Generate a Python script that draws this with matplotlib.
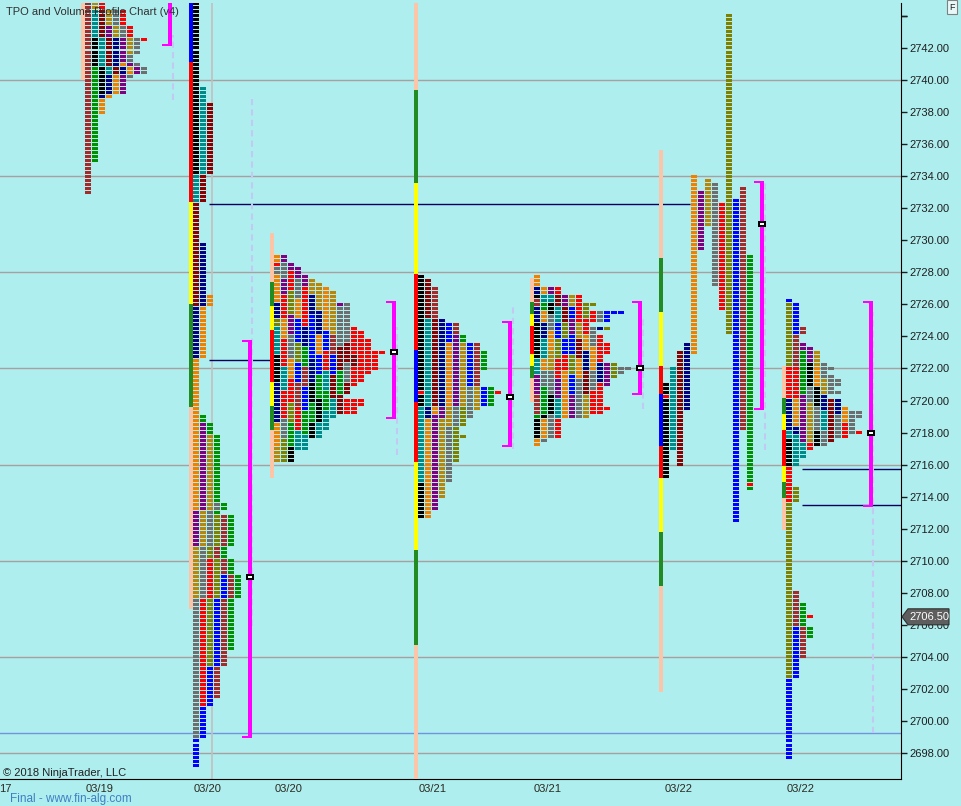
import matplotlib
matplotlib.use('Agg')
import matplotlib.pyplot as plt
from matplotlib.collections import PatchCollection
from matplotlib.patches import Rectangle, Polygon

plt.rcParams['font.family'] = ['Liberation Sans', 'DejaVu Sans']

# ---------------- data ----------------
COLORS = {'k': '#000000', 't': '#008B8B', 'r': '#8B0000', 'n': '#000080', 'o': '#F08000',
          'p': '#800080', 'g': '#B8860B', 's': '#6E6E6E', 'R': '#FF0000', 'v': '#808000',
          'b': '#0000FF', 'w': '#A52A2A', 'G': '#009000',
          'pe': '#FCC5A8', 'fg': '#228B22', 'y': '#FFFF00'}

# Profile A (03/19) - TPO periods (low, high, colour), time order
A_PERIODS = [(2733.0, 2744.75, 'w'), (2735.0, 2740.75, 'G'), (2739.25, 2742.5, 'k'),
             (2740.5, 2744.25, 't'), (2740.5, 2744.25, 'r'), (2739.0, 2742.5, 'n'),
             (2738.0, 2741.0, 'o'), (2739.25, 2743.25, 'p'), (2741.75, 2744.75, 'g'),
             (2740.25, 2744.25, 's'), (2742.5, 2744.75, 'R')]

# Profile B (03/20 overnight) - TPO periods
B_PERIODS = [(2734.25, 2744.75, 'k'), (2732.5, 2739.5, 't'), (2726.0, 2738.5, 'r'),
             (2722.75, 2729.75, 'n'), (2713.25, 2726.5, 'o'), (2711.0, 2718.5, 'p'),
             (2707.75, 2717.75, 'g'), (2699.0, 2713.5, 's'), (2701.0, 2710.0, 'R'),
             (2703.5, 2712.75, 'v'), (2697.25, 2709.0, 'b'), (2701.5, 2712.75, 'w'),
             (2704.5, 2719.0, 'G')]

# Profile C (03/20 day) - column runs (low, high, colour)
C_COLS = [
    [(2716.25, 2717.0, 'g'), (2717.25, 2718.5, 'o'), (2718.75, 2721.0, 'n'), (2721.25, 2722.75, 'k'),
     (2723.0, 2724.5, 't'), (2724.75, 2725.0, 'v'), (2725.25, 2726.0, 'n'), (2726.25, 2727.75, 'o'),
     (2728.0, 2728.25, 's'), (2728.5, 2728.5, 'R'), (2728.75, 2729.0, 'o')],
    [(2716.25, 2717.5, 'v'), (2717.75, 2718.75, 's'), (2719.0, 2720.5, 'R'), (2720.75, 2722.0, 't'),
     (2722.25, 2723.75, 'R'), (2724.0, 2725.0, 'o'), (2725.25, 2726.5, 'R'), (2726.75, 2727.5, 'p'),
     (2727.75, 2728.5, 's'), (2728.75, 2729.0, 'p')],
    [(2716.25, 2717.0, 'k'), (2717.25, 2718.5, 'G'), (2718.75, 2719.75, 'v'), (2720.0, 2721.25, 'R'),
     (2721.5, 2722.5, 'o'), (2722.75, 2724.0, 's'), (2724.25, 2725.25, 'p'), (2725.5, 2726.75, 'v'),
     (2727.0, 2728.0, 'R'), (2728.25, 2728.5, 'p')],
    [(2717.0, 2718.0, 't'), (2718.25, 2719.5, 'R'), (2719.75, 2721.0, 'w'), (2721.25, 2722.25, 'b'),
     (2722.5, 2723.5, 'v'), (2723.75, 2725.0, 'b'), (2725.25, 2726.25, 'o'), (2726.5, 2727.5, 's'),
     (2727.75, 2728.25, 'p')],
    [(2717.0, 2717.75, 't'), (2718.0, 2719.25, 'G'), (2719.5, 2720.75, 'b'), (2721.0, 2722.0, 'w'),
     (2722.25, 2723.25, 'G'), (2723.5, 2724.5, 'n'), (2724.75, 2725.75, 'R'), (2726.0, 2727.0, 'R'),
     (2727.25, 2727.75, 'p')],
    [(2717.75, 2718.5, 'k'), (2718.75, 2719.75, 'G'), (2720.0, 2721.0, 'k'), (2721.25, 2722.5, 'n'),
     (2722.75, 2723.75, 'b'), (2724.0, 2725.25, 'b'), (2725.5, 2726.5, 'n'), (2726.75, 2727.5, 'g')],
    [(2717.75, 2718.5, 't'), (2718.75, 2720.0, 'k'), (2720.25, 2721.5, 'G'), (2721.75, 2722.75, 'b'),
     (2723.0, 2724.0, 'o'), (2724.25, 2725.5, 'n'), (2725.75, 2726.5, 'g'), (2726.75, 2727.25, 'g')],
    [(2718.25, 2719.25, 't'), (2719.5, 2720.5, 'G'), (2720.75, 2721.75, 't'), (2722.0, 2723.0, 'R'),
     (2723.25, 2724.25, 'b'), (2724.5, 2725.5, 'o'), (2725.75, 2727.0, 'o')],
    [(2719.0, 2720.0, 't'), (2720.25, 2721.5, 'r'), (2721.75, 2722.75, 'b'), (2723.0, 2724.0, 'w'),
     (2724.25, 2725.25, 'g'), (2725.5, 2726.75, 'g')],
    [(2719.25, 2720.25, 'r'), (2720.5, 2721.75, 'G'), (2722.0, 2723.25, 'r'), (2723.5, 2724.5, 's'),
     (2724.75, 2725.75, 's'), (2726.0, 2726.0, 'p')],
    [(2719.25, 2720.0, 'R'), (2720.5, 2721.0, 'r'), (2721.25, 2722.25, 's'), (2722.5, 2723.5, 'r'),
     (2723.75, 2724.5, 's'), (2724.75, 2726.0, 's')],
    [(2719.25, 2720.0, 'R'), (2721.0, 2722.0, 'R'), (2722.25, 2722.75, 'r'), (2723.0, 2724.5, 'R')],
    [(2719.75, 2720.0, 'R'), (2721.25, 2722.25, 'R'), (2722.5, 2724.25, 'R')],
    [(2721.75, 2723.75, 'R')],
    [(2722.0, 2723.0, 'R')],
    [(2723.0, 2723.0, 'R')],
]

# Profile D (03/21 overnight)
D_COLS = [
    [(2712.75, 2714.75, 'k'), (2715.0, 2719.5, 't'), (2719.75, 2720.25, 'k'), (2720.5, 2720.5, 'R'),
     (2720.75, 2727.75, 'k')],
    [(2712.75, 2713.75, 'o'), (2714.0, 2718.75, 'o'), (2719.0, 2719.5, 'n'), (2719.75, 2725.0, 't'),
     (2725.25, 2727.5, 'r')],
    [(2713.25, 2719.0, 'p'), (2719.25, 2719.5, 'o'), (2719.75, 2725.0, 'r'), (2725.25, 2727.0, 'w')],
    [(2714.0, 2718.75, 'g'), (2719.0, 2719.5, 'p'), (2719.75, 2725.0, 'n')],
    [(2715.0, 2718.25, 's'), (2718.5, 2719.5, 'g'), (2719.75, 2723.5, 'o'), (2723.75, 2724.75, 'b')],
    [(2716.25, 2718.25, 'v'), (2718.5, 2719.5, 's'), (2719.75, 2724.0, 'p'), (2724.25, 2724.75, 'w')],
    [(2717.75, 2717.75, 'v'), (2718.5, 2719.5, 'v'), (2719.75, 2723.5, 'g'), (2723.75, 2724.0, 'G')],
    [(2719.0, 2720.75, 's'), (2721.0, 2723.5, 'b')],
    [(2719.5, 2720.75, 'g'), (2721.0, 2723.5, 'w')],
    [(2719.75, 2720.75, 'b'), (2722.0, 2723.0, 'G')],
    [(2719.75, 2720.75, 'G')],
    [(2720.5, 2720.5, 'R')],
]

# Profile E (03/21 day)
E_COLS = [
    [(2717.25, 2717.5, 'o'), (2717.75, 2718.75, 'k'), (2719.0, 2719.0, 'G'), (2719.25, 2720.25, 'w'),
     (2720.5, 2721.5, 'p'), (2721.75, 2722.5, 't'), (2722.75, 2724.75, 'k'), (2725.0, 2725.75, 'n'),
     (2726.0, 2726.25, 'w'), (2726.5, 2726.5, 'k'), (2726.75, 2727.0, 'n'), (2727.25, 2727.75, 'o')],
    [(2717.5, 2717.5, 's'), (2717.75, 2718.75, 'o'), (2719.0, 2719.0, 'k'), (2719.25, 2720.75, 'G'),
     (2721.0, 2721.75, 's'), (2722.0, 2722.5, 'o'), (2722.75, 2723.75, 't'), (2724.0, 2724.75, 'n'),
     (2725.0, 2725.5, 'o'), (2725.75, 2726.0, 'G'), (2726.25, 2726.5, 't'), (2726.75, 2727.0, 'o')],
    [(2717.75, 2719.0, 's'), (2719.25, 2720.25, 'k'), (2720.5, 2721.75, 's'), (2722.0, 2723.0, 'g'),
     (2723.25, 2724.25, 'o'), (2724.5, 2725.25, 's'), (2725.5, 2726.0, 'k'), (2726.25, 2726.5, 't'),
     (2726.75, 2727.0, 'p')],
    [(2717.75, 2718.75, 'R'), (2719.0, 2720.0, 't'), (2720.25, 2721.25, 'p'), (2721.5, 2722.5, 'R'),
     (2722.75, 2723.75, 'v'), (2724.0, 2724.75, 'b'), (2725.0, 2725.75, 't'), (2726.0, 2726.5, 'r'),
     (2726.75, 2727.0, 'R')],
    [(2719.0, 2720.5, 'o'), (2720.75, 2721.75, 'o'), (2722.0, 2722.75, 'R'), (2723.0, 2723.75, 'b'),
     (2724.0, 2724.75, 'v'), (2725.0, 2725.75, 'r'), (2726.0, 2726.5, 'p')],
    [(2719.0, 2720.25, 'p'), (2720.5, 2721.5, 'b'), (2721.75, 2722.75, 'v'), (2723.0, 2724.0, 'b'),
     (2724.25, 2725.0, 'p'), (2725.25, 2725.75, 'b'), (2726.0, 2726.5, 'g')],
    [(2719.0, 2720.0, 's'), (2720.25, 2721.25, 's'), (2721.5, 2722.5, 'o'), (2722.75, 2723.75, 'r'),
     (2724.0, 2724.75, 'g'), (2725.0, 2725.75, 'R'), (2726.0, 2726.5, 'R')],
    [(2719.0, 2720.25, 'g'), (2720.5, 2721.75, 'r'), (2722.0, 2723.0, 'n'), (2723.25, 2724.0, 'o'),
     (2724.25, 2725.0, 'R'), (2725.25, 2726.0, 'v')],
    [(2719.25, 2720.5, 'R'), (2720.75, 2721.75, 's'), (2722.0, 2723.25, 'o'), (2723.5, 2724.5, 's'),
     (2725.0, 2725.5, 'R'), (2726.0, 2726.0, 'v')],
    [(2719.25, 2721.0, 'R'), (2721.25, 2722.25, 'n'), (2722.5, 2724.0, 'R'), (2724.5, 2724.5, 'n'),
     (2725.0, 2725.5, 's')],
    [(2719.5, 2719.5, 'R'), (2721.0, 2722.25, 'p'), (2723.0, 2723.5, 'R'), (2724.5, 2724.5, 'v'),
     (2725.0, 2725.5, 'b')],
    [(2721.5, 2722.25, 'v'), (2725.5, 2725.5, 'b')],
    [(2721.75, 2722.0, 's'), (2725.5, 2725.5, 'b')],
    [(2722.0, 2722.0, 's')],
]

# Profile F (03/22 overnight) - one column per period
F_COLS = [
    [(2715.25, 2720.0, 'k'), (2720.25, 2720.25, 'R'), (2720.5, 2721.0, 'k')],
    [(2717.0, 2722.0, 't')],
    [(2716.0, 2723.0, 'r')],
    [(2719.5, 2723.5, 'n')],
    [(2723.0, 2734.0, 'o')],
    [(2729.5, 2733.0, 'p')],
    [(2731.0, 2733.75, 'g')],
    [(2727.25, 2733.5, 's')],
    [(2725.75, 2732.25, 'R')],
    [(2724.25, 2744.0, 'v')],
    [(2712.5, 2732.5, 'b')],
    [(2718.25, 2733.25, 'w')],
    [(2714.5, 2714.5, 'G'), (2714.75, 2714.75, 'R'), (2715.0, 2729.0, 'G')],
]

# Profile G (03/22 day)
G_COLS = [
    [(2697.75, 2702.5, 'b'), (2702.75, 2713.5, 'v'), (2713.75, 2715.75, 'R'), (2716.0, 2717.5, 'k'),
     (2717.75, 2718.0, 't'), (2718.25, 2720.0, 'n'), (2720.25, 2722.0, 'R'), (2722.25, 2726.0, 'v'),
     (2726.25, 2726.25, 'b')],
    [(2702.75, 2705.75, 'b'), (2706.0, 2708.0, 'w'), (2713.75, 2714.5, 'v'), (2716.0, 2717.75, 't'),
     (2718.0, 2718.25, 'n'), (2718.5, 2720.0, 'o'), (2720.25, 2722.0, 'R'), (2722.25, 2724.0, 'w'),
     (2724.25, 2726.0, 'b')],
    [(2704.0, 2705.75, 'w'), (2706.0, 2707.25, 'G'), (2716.5, 2717.25, 't'), (2717.5, 2718.25, 'p'),
     (2718.5, 2720.25, 'p'), (2720.5, 2721.5, 'G'), (2721.75, 2723.0, 'G'), (2723.25, 2723.5, 'p'),
     (2724.25, 2724.5, 'w')],
    [(2705.25, 2705.75, 'G'), (2706.5, 2706.5, 'R'), (2717.0, 2717.25, 'R'), (2717.5, 2718.25, 'g'),
     (2718.5, 2719.75, 'g'), (2720.0, 2720.75, 's'), (2721.0, 2722.25, 'k'), (2722.5, 2723.25, 'p')],
    [(2717.25, 2718.0, 'k'), (2718.25, 2719.5, 's'), (2719.75, 2720.75, 'k'), (2721.0, 2722.0, 'o'),
     (2722.25, 2723.0, 'g')],
    [(2717.25, 2718.0, 's'), (2718.25, 2719.25, 't'), (2719.5, 2720.25, 'n'), (2720.5, 2721.25, 'g'),
     (2721.5, 2722.25, 's')],
    [(2717.5, 2718.75, 'r'), (2719.0, 2720.0, 'r'), (2720.5, 2721.5, 's'), (2722.0, 2722.0, 's')],
    [(2717.75, 2719.0, 's'), (2719.25, 2720.0, 'n'), (2720.5, 2720.5, 's'), (2721.0, 2721.25, 's')],
    [(2717.75, 2718.5, 'R'), (2718.75, 2719.5, 'o')],
    [(2718.0, 2719.25, 's')],
    [(2718.0, 2718.0, 'R'), (2719.0, 2719.25, 's')],
]

# left-side range bars (segment boundaries in price, colours)
BARS = {
    'A': ([2740.0, 2745.0], ['pe']),
    'B': ([2707.0, 2719.625, 2726.0, 2732.375, 2741.125, 2745.0], ['pe', 'fg', 'y', 'R', 'b']),
    'C': ([2715.15, 2718.15, 2719.65, 2721.15, 2724.4, 2725.9, 2727.4, 2730.45],
          ['pe', 'fg', 'y', 'R', 'y', 'fg', 'pe']),
    'D': ([2696.0, 2704.75, 2710.7, 2716.15, 2719.9, 2723.15, 2727.9, 2733.6, 2739.4, 2745.0],
          ['pe', 'fg', 'y', 'R', 'b', 'R', 'y', 'fg', 'pe']),
    'E': ([2719.9, 2721.4, 2722.15, 2722.9, 2724.65, 2725.4, 2726.15, 2727.65],
          ['pe', 'fg', 'y', 'R', 'y', 'fg', 'pe']),
    'F': ([2701.8, 2708.4, 2711.8, 2715.15, 2717.15, 2720.4, 2722.15, 2725.5, 2728.9, 2735.63],
          ['pe', 'fg', 'y', 'R', 'b', 'R', 'y', 'fg', 'pe']),
    'G': ([2711.9, 2713.9, 2714.9, 2715.9, 2718.15, 2719.15, 2720.15, 2722.15],
          ['pe', 'fg', 'y', 'R', 'y', 'fg', 'pe']),
}

# value-area brackets: (high, low, POC)  (None = no marker)
VALUE_AREAS = {'A': (2746.0, 2742.125, None), 'B': (2723.75, 2698.95, 2709.0),
               'C': (2726.2, 2718.85, 2723.0), 'D': (2724.95, 2717.1, 2720.25),
               'E': (2726.2, 2720.35, 2722.0), 'F': (2733.7, 2719.4, 2731.0),
               'G': (2726.2, 2713.35, 2718.0)}

# faint volume-profile guide lines (low, high)
VOL_LINES = {'A': (2738.75, 2742.8), 'B': (2705.9, 2738.8), 'C': (2716.6, 2724.6),
             'D': (2717.0, 2726.0), 'E': (2719.5, 2725.2), 'F': (2716.9, 2733.6),
             'G': (2699.25, 2725.5)}

# naked POC lines: (price, x_start, x_end)
POC_LINES = [(2732.25, 209, 690), (2722.5, 209, 275), (2715.75, 802, 901), (2713.5, 802, 901)]

GRID_PRICES = [2698, 2704, 2710, 2716, 2722, 2728, 2734, 2740]
BLUE_LINE = 2699.25
Y_TICKS = list(range(2698, 2745, 2))
X_TICK_LABELS = ['03/19', '03/20', '03/20', '03/21', '03/21', '03/22', '03/22']
LAST_PRICE = 2706.50

# ---------------- layout ----------------
W, H, DPI = 961, 806, 100
AX_L, AX_R, AX_T, AX_B = 0, 901, 3, 779
P_REF, Y_REF, PXPT = 2742.0, 48.0, 16.023
ORIGIN = {'A': 85, 'B': 193, 'C': 274, 'D': 418, 'E': 534, 'F': 663, 'G': 786}
BRACKET_X = {'A': 168, 'B': 248, 'C': 392, 'D': 508, 'E': 638, 'F': 760, 'G': 869}
VOL_X = {'A': 173, 'B': 252, 'C': 397, 'D': 513, 'E': 643, 'F': 765, 'G': 873}
X_TICK_POS = [100, 208, 289, 433, 548, 679, 801]
PITCH, BW = 7, 6
PX = 1.0 / PXPT

fig = plt.figure(figsize=(W / DPI, H / DPI), dpi=DPI, facecolor='#AFEEEE')
ax = fig.add_axes([AX_L / W, (H - AX_B) / H, (AX_R - AX_L) / W, (AX_B - AX_T) / H])
ax.set_facecolor('#AFEEEE')
ax.set_xlim(0, AX_R - AX_L)
ax.set_ylim(P_REF - (AX_B - Y_REF) / PXPT, P_REF + (Y_REF - AX_T) / PXPT)


def px_to_price(ypx):
    return P_REF - (ypx - Y_REF) / PXPT


def snapped_row(p, hpx=3):
    """price row -> (bottom price, height) snapped to whole screen pixels"""
    yc = Y_REF + (P_REF - p) * PXPT
    top = round(yc - hpx / 2.0)
    return px_to_price(top + hpx), hpx * PX


def stacked(periods):
    rows = {}
    for lo, hi, c in periods:
        n = int(round((hi - lo) / 0.25))
        for i in range(n + 1):
            rows.setdefault(round(lo + i * 0.25, 2), []).append(c)
    cols = {}
    for p, cl in rows.items():
        for k, c in enumerate(cl):
            cols.setdefault(k, []).append((p, p, c))
    return [cols[k] for k in sorted(cols)]


def blocks(cols, x0):
    out = []
    for k, runs in enumerate(cols):
        for lo, hi, c in runs:
            n = int(round((hi - lo) / 0.25))
            for i in range(n + 1):
                out.append((x0 + k * PITCH, lo + i * 0.25, c))
    return out


# grid lines
for gp in GRID_PRICES:
    ax.axhline(gp, color='#A8A0A0', lw=1.0, zorder=1)
ax.axhline(BLUE_LINE, color='#7095E0', lw=1.0, zorder=1)
ax.axvline(212, color='#C4BEBE', lw=1.2, zorder=1)

for p, xs, xe in POC_LINES:
    ax.plot([xs, xe], [p, p], color='#000060', lw=1.0, zorder=2, solid_capstyle='butt')

# faint volume lines
for key, (lo, hi) in VOL_LINES.items():
    ax.plot([VOL_X[key], VOL_X[key]], [lo, hi], color='#C2CAF4', lw=1.5, ls=(0, (3, 2)), zorder=2)

# range bars
rects, fcs = [], []
for key, (bounds, cols) in BARS.items():
    x0 = ORIGIN[key] - 4
    for i, c in enumerate(cols):
        rects.append(Rectangle((x0, bounds[i]), 4, bounds[i + 1] - bounds[i]))
        fcs.append(COLORS[c])
ax.add_collection(PatchCollection(rects, facecolors=fcs, edgecolors='none', antialiased=False, zorder=3))

# TPO blocks
profiles = {'A': stacked(A_PERIODS), 'B': stacked(B_PERIODS), 'C': C_COLS, 'D': D_COLS,
            'E': E_COLS, 'F': F_COLS, 'G': G_COLS}
rects, fcs = [], []
for key, cols in profiles.items():
    for x, p, c in blocks(cols, ORIGIN[key]):
        y0, hh = snapped_row(p)
        rects.append(Rectangle((x, y0), BW, hh))
        fcs.append(COLORS[c])
ax.add_collection(PatchCollection(rects, facecolors=fcs, edgecolors='none', antialiased=False, zorder=4))

# value area brackets + POC markers
MAG = '#FF00FF'
for key, (hi, lo, poc) in VALUE_AREAS.items():
    xb = BRACKET_X[key]
    ax.add_patch(Rectangle((xb, lo), 4, hi - lo, color=MAG, lw=0, antialiased=False, zorder=5))
    ax.add_patch(Rectangle((xb - 6, hi - 2 * PX), 10, 2 * PX, color=MAG, lw=0, antialiased=False, zorder=5))
    ax.add_patch(Rectangle((xb - 6, lo), 10, 2 * PX, color=MAG, lw=0, antialiased=False, zorder=5))
    if poc is not None:
        y0, hh = snapped_row(poc, 6)
        ax.add_patch(Rectangle((xb - 2, y0), 8, hh, color='black', lw=0, antialiased=False, zorder=6))
        y1, h1 = snapped_row(poc, 2)
        ax.add_patch(Rectangle((xb, y1), 4, h1, color='white', lw=0, antialiased=False, zorder=7))

# axes styling
for s in ['top', 'left']:
    ax.spines[s].set_visible(False)
ax.spines['right'].set_color('black')
ax.spines['bottom'].set_color('black')
ax.yaxis.tick_right()
ax.set_yticks(Y_TICKS + [2744])
ax.set_yticklabels([f'{t:.2f}' for t in Y_TICKS] + [''])
ax.tick_params(axis='y', length=4.3, width=1, pad=1.5, labelsize=8, colors='#1E1E1E')
ax.set_xticks(X_TICK_POS)
ax.set_xticklabels(X_TICK_LABELS)
ax.tick_params(axis='x', length=0, pad=3.5, labelsize=8, colors='#2A2A20')

# last price tag
yl = LAST_PRICE
tag = Polygon([(902, yl), (908, yl + 8 * PX), (949, yl + 8 * PX), (949, yl - 8 * PX), (908, yl - 8 * PX)],
              closed=True, facecolor='#5E5E5E', edgecolor='#303030', lw=0.8, clip_on=False, zorder=8)
ax.add_patch(tag)
ax.text(929, yl, f'{LAST_PRICE:.2f}', color='white', fontsize=8, ha='center', va='center',
        clip_on=False, zorder=9)

# texts
fig.text(6 / W, 1 - 12 / H, 'TPO and Volume Profile Chart (v4)', fontsize=8, color='#303030',
         ha='left', va='center', zorder=10)
fig.text(3 / W, 1 - 773 / H, '\u00a9 2018 NinjaTrader, LLC', fontsize=8, color='#202020',
         ha='left', va='center')
fig.text(10 / W, 1 - 799 / H, 'Final - www.fin-alg.com', fontsize=8.5, color='#3E7FC4',
         ha='left', va='center')
fig.text(5 / W, 1 - 789 / H, '17', fontsize=8, color='#2A2A20', ha='center', va='center')
fig.text(952 / W, 1 - 7 / H, 'F', fontsize=6.5, color='#202020', ha='center', va='center',
         bbox=dict(boxstyle='square,pad=0.25', facecolor='#E8F8F8', edgecolor='#808080', lw=0.8))

fig.savefig('out.png', dpi=DPI, facecolor=fig.get_facecolor())
